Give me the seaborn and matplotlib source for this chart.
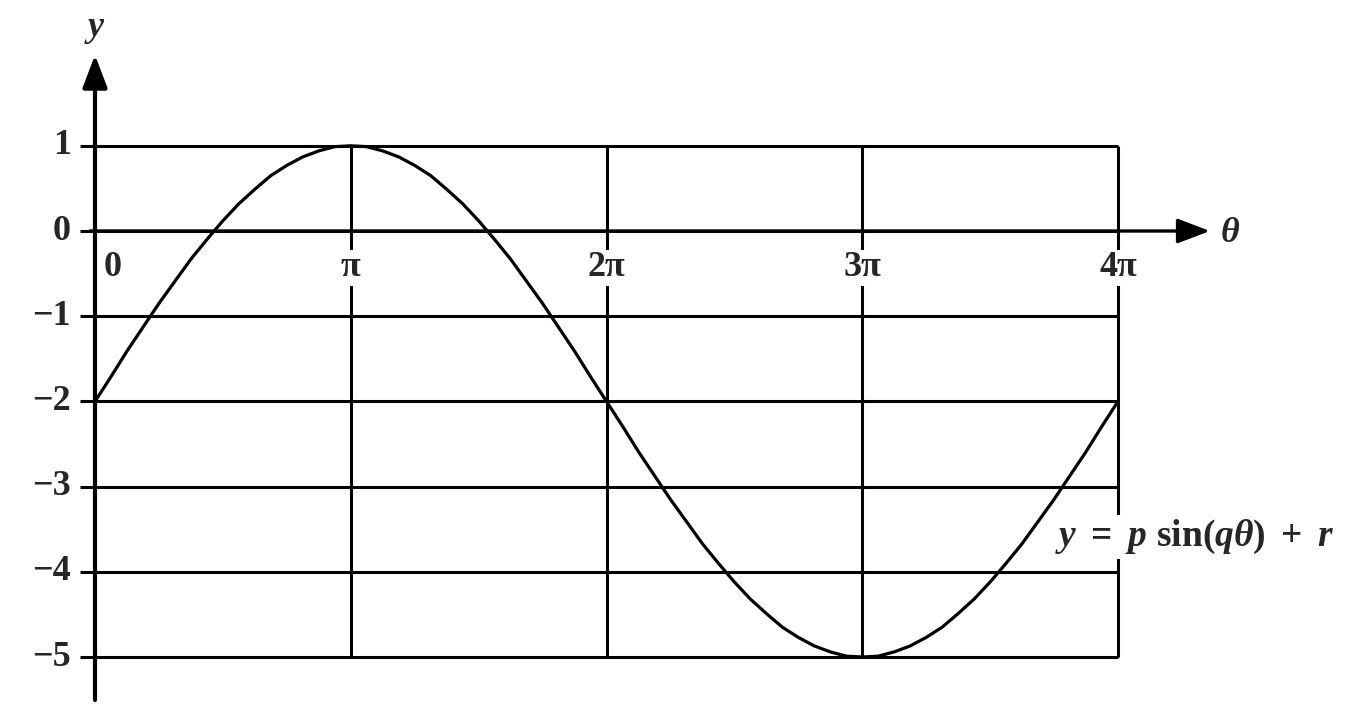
import numpy as np
import seaborn as sns
import matplotlib
matplotlib.use('Agg')
import matplotlib.pyplot as plt

# theta in units of pi, sampled every pi/16
theta_pi = np.arange(0, 4.001, 0.0625)
# y values at those theta positions
y_vals = [-2.00, -1.71, -1.41, -1.13, -0.85, -0.59, -0.33, -0.10,
          0.12, 0.32, 0.49, 0.65, 0.77, 0.87, 0.94, 0.99,
          1.00, 0.99, 0.94, 0.87, 0.77, 0.65, 0.49, 0.32,
          0.12, -0.10, -0.33, -0.59, -0.85, -1.13, -1.41, -1.71,
          -2.00, -2.29, -2.59, -2.87, -3.15, -3.41, -3.67, -3.90,
          -4.12, -4.32, -4.49, -4.65, -4.77, -4.87, -4.94, -4.99,
          -5.00, -4.99, -4.94, -4.87, -4.77, -4.65, -4.49, -4.32,
          -4.12, -3.90, -3.67, -3.41, -3.15, -2.87, -2.59, -2.29,
          -2.00]

y_ticks = [1, 0, -1, -2, -3, -4, -5]
x_ticks = [1, 2, 3, 4]
x_labels = ['π', '2π', '3π', '4π']

sns.set_style('white')
plt.rcParams['font.family'] = ['Liberation Serif', 'DejaVu Serif']
plt.rcParams['font.weight'] = 'bold'
plt.rcParams['mathtext.fontset'] = 'custom'
plt.rcParams['mathtext.rm'] = 'Liberation Serif:bold'
plt.rcParams['mathtext.it'] = 'Liberation Serif:italic:bold'
plt.rcParams['mathtext.bf'] = 'Liberation Serif:bold'

W, H = 1357, 714
X0, XU = 95, 255.75   # pixel of theta=0, pixels per pi
Y0, YU = 231, 85.2    # pixel of y=0, pixels per unit

def px(x):
    return (x - X0) / XU

def py(y):
    return (Y0 - y) / YU

fig = plt.figure(figsize=(W / 100, H / 100), dpi=100)
ax = fig.add_axes([0, 0, 1, 1])
ax.set_xlim(px(0), px(W))
ax.set_ylim(py(H), py(0))
ax.axis('off')

grid_lw = 2.2
ax.hlines(y_ticks, px(80), 4, color='black', lw=grid_lw, zorder=1)
ax.vlines(x_ticks, -5, 1, color='black', lw=grid_lw, zorder=1)

sns.lineplot(x=theta_pi, y=y_vals, ax=ax, color='black', lw=2.3, zorder=2,
             solid_joinstyle='round')

arrow = dict(arrowstyle='-|>,head_length=1.0,head_width=0.38', color='black',
             lw=3, mutation_scale=20, shrinkA=0, shrinkB=0)
ax.annotate('', xy=(0, py(55)), xytext=(0, py(700)), arrowprops=arrow, zorder=3)
ax.annotate('', xy=(px(1210), 0), xytext=(px(90), 0),
            arrowprops=dict(arrow, lw=2.4), zorder=3)

fs = 26
ax.text(px(95), py(30), '$y$', fontsize=fs, ha='center', va='center')
ax.text(px(1230), py(233), r'$\theta$', fontsize=fs, ha='center', va='center')

for v in y_ticks:
    ax.text(px(71), v, str(v).replace('-', '\u2212'), fontsize=fs,
            fontweight='bold', ha='right', va='center')

box = dict(facecolor='white', edgecolor='none', pad=1)
ax.text(px(113), py(268), '0', fontsize=fs, fontweight='bold',
        ha='center', va='center')
for x, lab in zip(x_ticks, x_labels):
    ax.text(x, py(268), lab, fontsize=fs, fontweight='bold',
            ha='center', va='center', bbox=box, zorder=4)

ax.text(px(1055), py(537), r'$y\ =\ p\ \mathrm{sin}(q\theta)\ +\ r$', fontsize=27,
        ha='left', va='center', bbox=dict(facecolor='white', edgecolor='none', pad=2),
        zorder=4)

fig.savefig('out.png', dpi=100)
